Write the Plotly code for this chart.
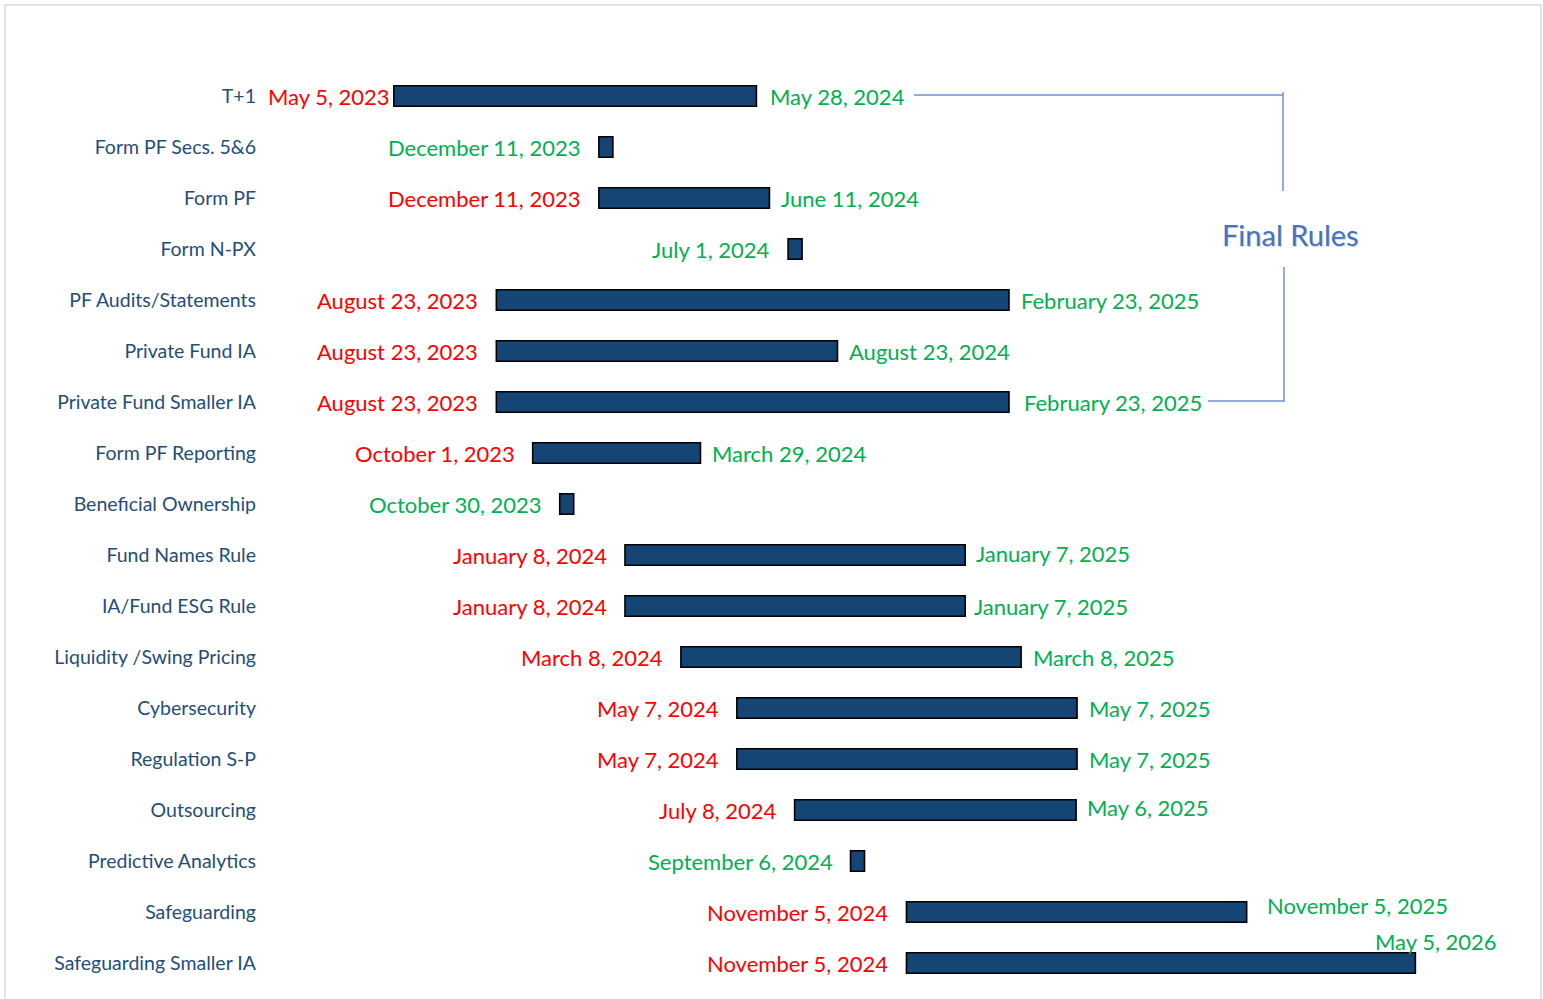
import datetime as dt
import plotly.graph_objects as go

# ---------------- data ----------------
categories = [
    "T+1", "Form PF Secs. 5&6", "Form PF", "Form N-PX", "PF Audits/Statements",
    "Private Fund IA", "Private Fund Smaller IA", "Form PF Reporting",
    "Beneficial Ownership", "Fund Names Rule", "IA/Fund ESG Rule",
    "Liquidity /Swing Pricing", "Cybersecurity", "Regulation S-P", "Outsourcing",
    "Predictive Analytics", "Safeguarding", "Safeguarding Smaller IA",
]
start_dates = [
    "2023-05-05", "2023-12-11", "2023-12-11", "2024-07-01", "2023-08-23",
    "2023-08-23", "2023-08-23", "2023-10-01",
    "2023-10-30", "2024-01-08", "2024-01-08",
    "2024-03-08", "2024-05-07", "2024-05-07", "2024-07-08",
    "2024-09-06", "2024-11-05", "2024-11-05",
]
# None = single compliance date (milestone)
end_dates = [
    "2024-05-28", None, "2024-06-11", None, "2025-02-23",
    "2024-08-23", "2025-02-23", "2024-03-29",
    None, "2025-01-07", "2025-01-07",
    "2025-03-08", "2025-05-07", "2025-05-07", "2025-05-06",
    None, "2025-11-05", "2026-05-05",
]

# ---------------- styling ----------------
W, H = 1543, 999
ML, MR, MT, MB = 268, 13, 20, 9
BAR_COLOR = "#144575"
RED = "#FF0000"
GREEN = "#00B050"
CAT_COLOR = "#1F4E79"
RULE_BLUE = "#4472C4"
FONT = "Lato"
DATE_SIZE = 22
MILESTONE_DAYS = 15
PX_PER_DAY = 0.932
REF_DATE = dt.date(2023, 5, 5)
REF_PX = 393

def d(s):
    return dt.date.fromisoformat(s)

def fmt(s):
    x = d(s)
    return f"{x:%B} {x.day}, {x.year}"

x_left = REF_DATE + dt.timedelta(days=(ML - REF_PX) / PX_PER_DAY)
x_right = REF_DATE + dt.timedelta(days=(W - MR - REF_PX) / PX_PER_DAY)

def px(xp):
    return (xp - ML) / (W - ML - MR)

def py(yp):
    return (H - MB - yp) / (H - MT - MB)

n = len(categories)
ys = list(range(n))
durations = []
for s, e in zip(start_dates, end_dates):
    days = (d(e) - d(s)).days if e else MILESTONE_DAYS
    durations.append(days * 86400000)

fig = go.Figure()
fig.add_trace(go.Bar(
    y=ys, x=durations, base=start_dates, orientation="h", width=0.4,
    marker=dict(color=BAR_COLOR, line=dict(color="#000000", width=1.6)),
    hoverinfo="skip", showlegend=False,
))

# label offset overrides (styling): (xshift, yshift)
start_shift = {0: (-2, 0)}
end_shift = {0: (12, 0), 6: (13, 0), 9: (9, 2), 10: (7, 0), 14: (9, 3), 16: (18, 7), 17: (-42, 22)}

ann = []
for i, (s, e) in enumerate(zip(start_dates, end_dates)):
    if e is None:
        ann.append(dict(x=s, y=i, text=fmt(s), xanchor="right", xshift=-16,
                        font=dict(color=GREEN, size=DATE_SIZE, family=FONT)))
    else:
        xs, yshift = start_shift.get(i, (-16, 0))
        ann.append(dict(x=s, y=i, text=fmt(s), xanchor="right", xshift=xs, yshift=yshift,
                        font=dict(color=RED, size=DATE_SIZE, family=FONT)))
        xs, yshift = end_shift.get(i, (10, 0))
        ann.append(dict(x=e, y=i, text=fmt(e), xanchor="left", xshift=xs, yshift=yshift,
                        font=dict(color=GREEN, size=DATE_SIZE, family=FONT)))
for a in ann:
    a.update(xref="x", yref="y", showarrow=False, yanchor="middle")

# Final Rules label with soft shadow
ann.append(dict(xref="paper", yref="paper", x=px(1291), y=py(235), text="Final Rules",
                showarrow=False, font=dict(color="rgba(0,0,0,0.18)", size=29, family=FONT),
                xanchor="center", yanchor="middle"))
ann.append(dict(xref="paper", yref="paper", x=px(1290), y=py(234), text="Final Rules",
                showarrow=False, font=dict(color=RULE_BLUE, size=29, family=FONT),
                xanchor="center", yanchor="middle"))

line = dict(color="#6F8FD4", width=1.5)
shapes = [
    dict(type="line", xref="paper", yref="paper", x0=px(914), x1=px(1283), y0=py(95), y1=py(95), line=line),
    dict(type="line", xref="paper", yref="paper", x0=px(1283), x1=px(1283), y0=py(92), y1=py(191), line=line),
    dict(type="line", xref="paper", yref="paper", x0=px(1284), x1=px(1284), y0=py(267), y1=py(402), line=line),
    dict(type="line", xref="paper", yref="paper", x0=px(1208), x1=px(1284), y0=py(401), y1=py(401), line=line),
    dict(type="rect", xref="paper", yref="paper", x0=px(5), x1=px(1541), y0=py(5), y1=py(1010),
         line=dict(color="#D9D9D9", width=1.5)),
]

fig.update_layout(
    width=W, height=H, margin=dict(l=ML, r=MR, t=MT, b=MB),
    paper_bgcolor="white", plot_bgcolor="white",
    annotations=ann, shapes=shapes, showlegend=False,
    xaxis=dict(type="date", range=[x_left.isoformat(), x_right.isoformat()],
               showgrid=False, zeroline=False, showticklabels=False, showline=False, ticks=""),
    yaxis=dict(range=[(H - MB - 96) / 51.0, -(96 - MT) / 51.0], tickmode="array",
               tickvals=ys, ticktext=categories, showgrid=False, zeroline=False,
               showline=False, ticks="", ticklabelstandoff=11,
               tickfont=dict(color=CAT_COLOR, size=19.5, family=FONT)),
)

fig.write_html(
    "out.html",
    config={"displayModeBar": False},
    post_script="document.body.style.margin='0';document.body.style.overflow='hidden';",
)
